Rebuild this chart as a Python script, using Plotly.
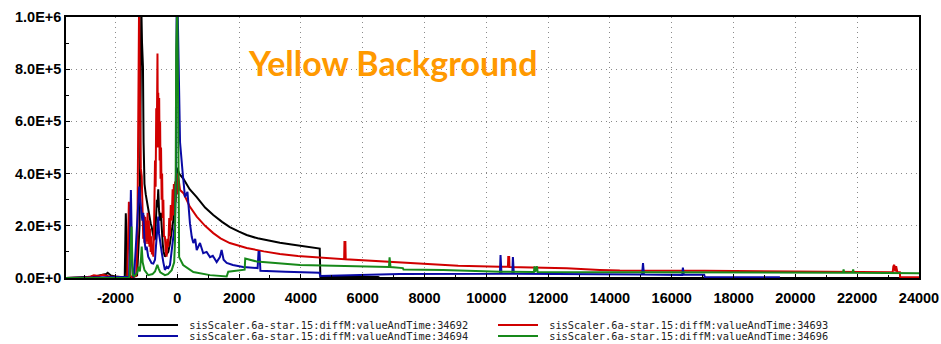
import plotly.graph_objects as go

# ---------------- data ----------------
x_ticks = [-2000, 0, 2000, 4000, 6000, 8000, 10000, 12000, 14000, 16000, 18000, 20000, 22000, 24000]
x_tick_labels = ["-2000", "0", "2000", "4000", "6000", "8000", "10000", "12000", "14000",
                 "16000", "18000", "20000", "22000", "24000"]
y_ticks = [0, 200000, 400000, 600000, 800000, 1000000]
y_tick_labels = ["0.0E+0", "2.0E+5", "4.0E+5", "6.0E+5", "8.0E+5", "1.0E+6"]

names = ["sisScaler.6a-star.15:diffM:valueAndTime:34692",
         "sisScaler.6a-star.15:diffM:valueAndTime:34693",
         "sisScaler.6a-star.15:diffM:valueAndTime:34694",
         "sisScaler.6a-star.15:diffM:valueAndTime:34696"]

black_x = [-3600, -3000, -2800, -2600, -2450, -2300, -2250, -2150, -2000, -1800, -1700,
           -1680, -1665, -1650, -1630, -1600, -1400, -1300, -1220, -1190, -1165, -1140,
           -1110, -1090, -1060, -1020, -980, -940, -900, -860, -830, -780, -750, -720,
           -690, -660, -640, -615, -590, -560, -530, -505, -470, -440, -400, -350, -290,
           -240, -180, -130, -90, -60, -35, 0, 60, 140, 200, 400, 630, 900, 1165, 1450,
           1700, 2000, 2245, 2600, 3000, 3320, 3700, 4000, 4300, 4610, 4630, 5000, 6500,
           6560, 10000, 24000]
black_y = [0, 2e3, 5e3, 8e3, 1.2e4, 1.5e4, 2e4, 1e4, 6e3, 3e3, 2e3,
           1.5e5, 2.48e5, 1.8e5, 5e3, 3e3, 5e3, 1e4, 2e5, 6e5, 1.05e6, 9e5,
           8.1e5, 5.2e5, 3.6e5, 3.2e5, 2.9e5, 2.7e5, 2.4e5, 2.1e5, 1.97e5, 1.7e5, 1.46e5, 1.5e5,
           2.2e5, 3.0e5, 2.7e5, 3.4e5, 2.6e5, 2.2e5, 2.5e5, 1.84e5, 1.3e5, 1.0e5, 8.2e4, 9e4, 1.0e5,
           1.3e5, 1.8e5, 2.2e5, 2.8e5, 3.2e5, 3.6e5, 4.2e5, 4.0e5, 3.9e5, 3.8e5, 3.4e5, 3.1e5, 2.7e5, 2.41e5, 2.15e5,
           1.95e5, 1.78e5, 1.65e5, 1.52e5, 1.42e5, 1.35e5, 1.28e5, 1.24e5, 1.19e5, 1.13e5, 4e3, 4e3, 4e3,
           0, 0, 0]

red_x = [-3600, -3000, -2800, -2700, -2550, -2400, -2200, -2000, -1800, -1620, -1590, -1565,
         -1545, -1520, -1480, -1400, -1330, -1290, -1270, -1255, -1235, -1210, -1180, -1150,
         -1120, -1100, -1080, -1060, -1040, -1020, -1000, -980, -960, -940, -920, -900, -880,
         -860, -840, -820, -800, -775, -750, -720, -700, -680, -665, -650, -640, -630, -615,
         -600, -585, -570, -555, -540, -525, -505, -490, -470, -450, -430, -400, -370, -345,
         -320, -290, -260, -235, -210, -180, -150, -130, -110, -90, -70, -50, -30, -10, 20,
         60, 90, 200, 400, 630, 900, 1165, 1400, 1700, 2000, 2245, 2800, 3320, 3900, 4620,
         5400, 5410, 5440, 5450, 7200, 8180, 9090, 10440, 10700, 10710, 10740, 10750, 11090,
         12600, 13670, 14320, 17070, 20150, 23150, 23170, 23200, 23230, 23260, 23300, 23380,
         23390, 24000]
red_y = [0, 2e3, 6e3, 1e4, 8e3, 1.2e4, 6e3, 4e3, 2e3, 3e3, 1.5e5, 2.92e5,
         2.0e5, 1e4, 4e3, 5e3, 8e3, 1.5e5, 6e5, 1.05e6, 1.05e6, 7e5, 4.2e5, 3.9e5,
         2.6e5, 1.5e5, 2.4e5, 1.35e5, 2.35e5, 1.3e5, 2.2e5, 1.4e5, 2.5e5, 1.3e5, 2.2e5, 1.2e5, 1.9e5,
         1.0e5, 1.6e5, 9e4, 1.2e5, 8.2e4, 2.0e5, 4.5e5, 3.5e5, 6.5e5, 5.0e5, 7.3e5, 8.6e5, 6.0e5, 7.1e5,
         5.0e5, 6.9e5, 4.5e5, 6.0e5, 3.8e5, 5.0e5, 3.0e5, 4.0e5, 2.3e5, 3.0e5, 1.6e5, 1.58e5, 1.0e5, 8.2e4,
         1.5e5, 1.2e5, 2.3e5, 1.6e5, 2.8e5, 2.2e5, 3.4e5, 2.4e5, 3.6e5, 2.6e5, 3.7e5, 2.9e5, 3.8e5, 3.2e5, 4.0e5,
         3.5e5, 3.37e5, 3.25e5, 2.75e5, 2.35e5, 2.0e5, 1.72e5, 1.52e5, 1.34e5, 1.22e5, 1.15e5, 1.02e5, 9.2e4, 8.4e4, 7.7e4,
         7.2e4, 1.38e5, 1.38e5, 7.2e4, 5.9e4, 5.4e4, 4.7e4, 4.3e4, 4.3e4, 8e4, 8e4, 4.2e4, 4.1e4,
         3.7e4, 3.1e4, 2.9e4, 2.8e4, 2.4e4, 2.2e4, 4.5e4, 5e4, 2.5e4, 4.5e4, 2.2e4, 2.2e4,
         3e3, 3e3]

blue_x = [-3600, -2800, -2300, -2000, -1700, -1560, -1530, -1500, -1480, -1460, -1430, -1400,
          -1350, -1300, -1260, -1230, -1200, -1170, -1130, -1100, -1060, -1020, -990, -940,
          -880, -830, -775, -720, -690, -665, -640, -615, -590, -560, -505, -450, -400, -345,
          -290, -235, -180, -130, -75, -40, -20, 10, 60, 90, 170, 250, 330, 410, 470, 520, 580,
          630, 735, 840, 950, 1060, 1150, 1275, 1380, 1435, 1500, 1600, 1800, 2130, 2600, 2630,
          2660, 2690, 3500, 4600, 4630, 5500, 7200, 10440, 10460, 10490, 10840, 10860, 10890,
          13670, 15040, 15070, 15100, 16340, 16360, 16390, 17050, 17070, 19500]
blue_y = [0, 2e3, 3e3, 4e3, 4e3, 5e3, 1.5e5, 3.37e5, 2.0e5, 5e4, 8e3, 5e3,
          1.0e5, 2.0e5, 3.1e5, 3.5e5, 3.0e5, 2.6e5, 2.2e5, 2.5e5, 1.4e5, 1.07e5, 1.2e5, 8.2e4,
          6.5e4, 5.7e4, 5.5e4, 7e4, 1.2e5, 1.58e5, 2.0e5, 2.35e5, 1.7e5, 1.4e5, 1.0e5, 6e4, 3.1e4, 4.3e4,
          3.8e4, 5e4, 1.0e5, 1.46e5, 2.1e5, 4e5, 1.05e6, 1.05e6, 6e5, 5.2e5, 4.1e5, 3.1e5, 3.3e5, 2.1e5, 1.57e5, 1.34e5, 1.5e5,
          1.07e5, 1.34e5, 9.5e4, 1.0e5, 8e4, 8.5e4, 6.1e4, 8e4, 1.07e5, 7e4, 5.8e4, 5e4, 4.2e4, 3.8e4, 1.0e5,
          1.0e5, 2.8e4, 2.4e4, 2.0e4, 8e3, 1.0e4, 1.5e4, 1.6e4, 8.8e4, 1.6e4, 1.6e4, 8e4, 1.6e4,
          1.4e4, 1.3e4, 5.7e4, 1.3e4, 1.2e4, 4e4, 1.2e4, 1.2e4, 3e3, 3e3]

green_x = [-3600, -1560, -1540, -1500, -1480, -1460, -1440, -1380, -1300, -1250, -1210, -1170,
           -1150, -1120, -1060, -940, -800, -720, -645, -600, -550, -400, -300, -180, -100, -75,
           -50, -35, -20, 0, 30, 60, 190, 520, 1060, 1480, 1600, 1650, 2030, 2180, 2200, 2570,
           3970, 5050, 6850, 6870, 6900, 7300, 7320, 8600, 10440, 11540, 11560, 11580, 11640,
           11660, 14320, 17000, 20150, 21540, 21560, 21580, 21850, 21870, 21890, 24000]
green_y = [0, 0, 1e4, 1.0e5, 1.97e5, 1.0e5, 1.1e4, 8e3, 2e4, 4.3e4, 2.5e4, 8e4,
           1.2e5, 6e4, 3e4, 1.1e4, 1.5e4, 2.5e4, 5e4, 3.5e4, 2.2e4, 1.1e4, 1.5e4, 3e4, 6e4, 1.34e5,
           4e5, 8.7e5, 1.05e6, 1.05e6, 6.3e5, 8e4, 5e4, 2.3e4, 1.1e4, 5e3, 6e3, 2.4e4, 3e4, 3.2e4, 7.5e4, 6.3e4,
           5e4, 4.6e4, 4.2e4, 7.9e4, 4.2e4, 3.8e4, 3.3e4, 3.1e4, 2.4e4, 2.3e4, 4.5e4, 2.3e4, 4.5e4,
           2.3e4, 2.2e4, 2.0e4, 2.0e4, 2.0e4, 3.3e4, 2.0e4, 2.0e4, 3.3e4, 2.0e4, 1.8e4]

# ---------------- figure ----------------
W, H = 941, 344
L, R, T, B = 66, 22, 17, 66
PW = W - L - R

fig = go.Figure()
traces = [
    (black_x, black_y, "#000000", names[0], "legend"),
    (red_x, red_y, "#d00000", names[1], "legend"),
    (blue_x, blue_y, "#0a0aa5", names[2], "legend2"),
    (green_x, green_y, "#17891a", names[3], "legend2"),
]
for xs, ys, col, nm, lg in traces:
    fig.add_trace(go.Scatter(x=xs, y=ys, mode="lines", name="\u00a0" + nm, legend=lg,
                             line=dict(color=col, width=2)))

tick_font = dict(family="Liberation Sans", size=14.5, color="#000000", weight="bold")
leg_font = dict(family="DejaVu Sans Mono", size=10.3, color="#222222")

fig.update_layout(
    width=W, height=H,
    margin=dict(l=L, r=R, t=T, b=B, autoexpand=False),
    paper_bgcolor="white", plot_bgcolor="white",
    showlegend=True,
    xaxis=dict(range=[-3600, 24000], tickmode="array", tickvals=x_ticks, ticktext=x_tick_labels,
               showgrid=True, gridcolor="#8a8a8a", gridwidth=1, griddash="1px,4px",
               zeroline=False, showline=True, linecolor="#000000", linewidth=1.5, mirror=True,
               ticks="inside", ticklen=4, tickcolor="#000000", tickfont=tick_font,
               ticklabelstandoff=6, automargin=False,
               minor=dict(dtick=1000, tick0=0, ticks="inside", ticklen=3, tickcolor="#000000", showgrid=False)),
    yaxis=dict(range=[0, 1000000], tickmode="array", tickvals=y_ticks, ticktext=y_tick_labels,
               showgrid=True, gridcolor="#8a8a8a", gridwidth=1, griddash="1px,4px",
               zeroline=False, showline=True, linecolor="#000000", linewidth=1.5, mirror=True,
               ticks="inside", ticklen=4, tickcolor="#000000", tickfont=tick_font,
               automargin=False,
               minor=dict(dtick=100000, tick0=0, ticks="inside", ticklen=3, tickcolor="#000000", showgrid=False)),
    legend=dict(orientation="h", xref="container", yref="container",
                x=133 / W, xanchor="left", y=1 - 325 / H, yanchor="middle",
                entrywidth=305, entrywidthmode="pixels", font=leg_font,
                bgcolor="rgba(0,0,0,0)", itemwidth=40),
    legend2=dict(orientation="h", xref="container", yref="container",
                 x=133 / W, xanchor="left", y=1 - 336 / H, yanchor="middle",
                 entrywidth=305, entrywidthmode="pixels", font=leg_font,
                 bgcolor="rgba(0,0,0,0)", itemwidth=40),
    annotations=[dict(text="Yellow Background", xref="paper", yref="paper",
                      x=(246 - L) / PW, y=(278 - 62) / 261, xanchor="left", yanchor="middle",
                      showarrow=False,
                      font=dict(family="Lato", size=34, color="#ff9900", weight="bold"))],
)

fig.write_html("out.html", post_script="document.body.style.margin='0';",
               config={"displayModeBar": False})
